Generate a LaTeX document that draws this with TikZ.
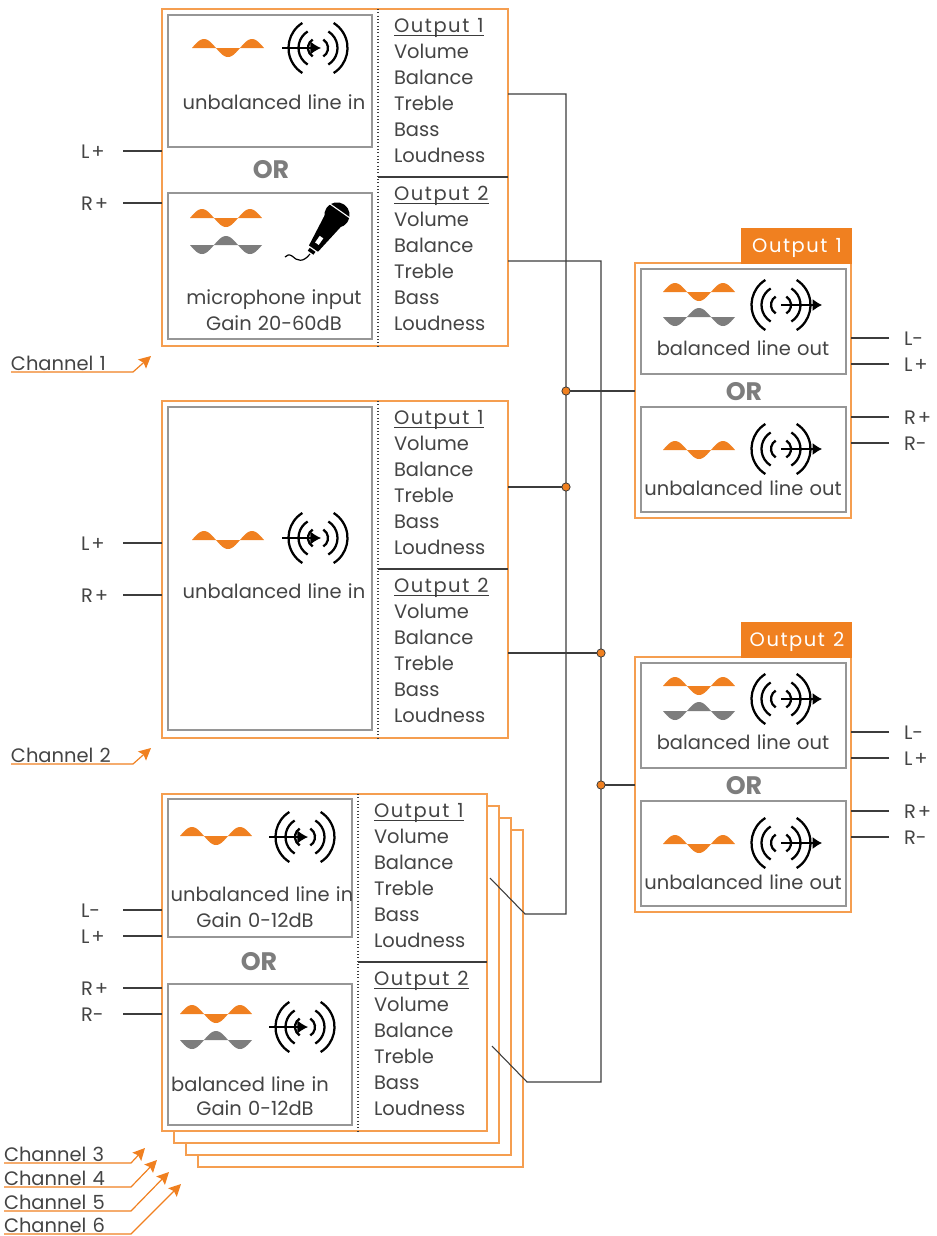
\documentclass[tikz,border=0pt]{standalone}
\usepackage{fontspec}
\setmainfont{Poppins}[WordSpace=1.2]
\usetikzlibrary{arrows.meta,positioning,calc}
\definecolor{mOrange}{RGB}{240,128,32}
\definecolor{mEdge}{RGB}{245,158,80}
\definecolor{mInner}{RGB}{150,150,150}
\definecolor{mWire}{RGB}{60,60,60}
\definecolor{mText}{RGB}{68,68,68}
\definecolor{mWave}{RGB}{125,125,125}
\tikzset{
  chanbox/.style={draw=mEdge, fill=white, line width=1.1pt, inner sep=0pt, outer sep=0pt},
  innerbox/.style={draw=mInner, fill=white, line width=0.95pt, inner sep=0pt, outer sep=0pt},
  tabbox/.style={draw=mOrange, fill=mOrange, line width=0.6pt, inner sep=0pt, outer sep=0pt},
  wire/.style={draw=mWire, line width=0.8pt},
  midrule/.style={draw=mWire, line width=0.9pt},
  dotrule/.style={draw=mWire, line width=0.8pt, dash pattern=on 0.8pt off 1.7pt},
  chanln/.style={draw=mOrange, line width=0.9pt, -{Stealth[length=9pt,width=9pt,inset=1.5pt]}},
  sigln/.style={draw=black, line width=1.7pt},
  txt/.style={font=\fontsize{14.6}{17}\selectfont, text=mText, inner sep=0pt, outer sep=0pt, text height=10.5pt, text depth=0pt},
  rowtxt/.style={txt, anchor=base west},
  headtxt/.style={rowtxt, font=\fontsize{14.6}{17}\selectfont\addfontfeature{LetterSpace=8}},
  tabtxt/.style={txt, text=white, font=\fontsize{14.6}{17}\selectfont\addfontfeature{LetterSpace=8}},
  orword/.style={font=\fontsize{19}{20}\selectfont\bfseries, text=mWave, inner sep=0pt},
  junction/.style={circle, draw=mWire, fill=mOrange, line width=0.6pt, minimum size=6.2pt, inner sep=0pt, outer sep=0pt},
}
\newcommand{\blockat}[6]{%
  \node[#2, anchor=north west, minimum width={((#5)-(#3))*0.75pt}, minimum height={((#6)-(#4))*0.75pt}] (#1) at (#3,#4) {};
}
\newcommand{\wavefill}[4]{%
  \fill[#1] plot[domain=0:540, samples=73] ({#2-36+\x*24/180},{#3-#4*9*sin(\x)}) -- cycle;
}
\newcommand{\sigarcs}[2]{%
  \foreach \r in {10,19.5,29.5}{
    \draw[sigln] ({#1-\r*cos(58)},{#2-\r*sin(58)}) arc[start angle=122, end angle=238, radius=\r*0.75pt];
    \draw[sigln] ({#1+\r*cos(58)},{#2+\r*sin(58)}) arc[start angle=-58, end angle=58, radius=\r*0.75pt];
  }
}
\newcommand{\sigin}[2]{%
  \sigarcs{#1}{#2}
  \draw[draw=black, line width=1pt, -{Latex[length=8pt,width=10pt]}] (#1-36,#2) -- (#1+3,#2);
}
\newcommand{\sigout}[2]{%
  \sigarcs{#1}{#2}
  \draw[draw=black, line width=1pt, -{Latex[length=7pt,width=9pt]}] (#1,#2) -- (#1+41,#2);
}
\newcommand{\knobrows}[4]{%
  \node[headtxt] (#1) at (#2,#3+7) {Output #4};
  \draw[mWire, line width=0.8pt] ([yshift=-2.4pt]#1.base west) -- ([yshift=-2.4pt]#1.base east);
  \foreach \t [count=\i] in {Volume,Balance,Treble,Bass,Loudness}{
    \node[rowtxt] (#1-\i) at (#2,{#3+7+26*\i}) {\t};
  }
}
\newcommand{\knobcolumn}[3]{%
  \coordinate (#1-t) at (#2,#3);
  \coordinate (#1-m) at (#2,#3+168);
  \draw[dotrule] (#1-t) -- (#1-t |- #1box.south);
  \draw[midrule] (#1-m) -- (#1-m -| #1box.east);
  \knobrows{#1-a}{#2+16}{#3+16}{1}
  \knobrows{#1-b}{#2+16}{#3+184}{2}
}
\newcommand{\portin}[4]{%
  \node[txt, anchor=west] (#1) at (81,#4) {#3};
  \coordinate (#1-e) at (123,#4);
  \draw[wire] (#1-e) -- (#1-e -| #2.west);
}
\newcommand{\portout}[4]{%
  \node[txt, anchor=west] (#1) at (904,#4) {#3};
  \coordinate (#1-e) at (889,#4);
  \draw[wire] (#1-e) -- (#1-e -| #2.east);
}
\newcommand{\chanlabel}[7]{%
  \node[txt, anchor=base west] (#1) at (#3,#4+7) {#2};
  \coordinate (#1-s) at (#3,#4+9);
  \coordinate (#1-k) at (#5,#4+9);
  \coordinate (#1-h) at (#6,#7);
  \draw[chanln] (#1-s) -- (#1-k) -- (#1-h);
}
\newcommand{\lplus}[1]{#1\kern1.5pt+}
% one output block, last argument moves it down the page
\newcommand{\outputblock}[3]{%
  \blockat{#1box}{chanbox}{635}{263+#3}{851}{518+#3}
  \blockat{#1tab}{tabbox}{741}{228+#3}{851}{263+#3}
  \node[tabtxt] (#1tabtxt) at (797,245+#3) {Output #2};
  \blockat{#1bal}{innerbox}{641}{269+#3}{846}{374+#3}
  \blockat{#1unb}{innerbox}{641}{407+#3}{846}{512+#3}
  \node[orword] (#1or) at (744,392+#3) {OR};
  \wavefill{mOrange}{699}{292+#3}{1}
  \wavefill{mWave}{699}{317+#3}{-1}
  \sigout{781}{305+#3}
  \node[txt] (#1baltxt) at (743,348+#3) {balanced line out};
  \wavefill{mOrange}{699}{450+#3}{1}
  \sigout{781}{449+#3}
  \node[txt] (#1unbtxt) at (743,488+#3) {unbalanced line out};
  \portout{#1lm}{#1box}{L-}{338+#3}
  \portout{#1lp}{#1box}{\lplus{L}}{364+#3}
  \portout{#1rp}{#1box}{\lplus{R}}{417+#3}
  \portout{#1rm}{#1box}{R-}{443+#3}
}
\begin{document}
\begin{tikzpicture}[x=0.75pt,y=-0.75pt]
  \useasboundingbox (0,0) rectangle (936,1236);
  % channel 1
  \blockat{ch1box}{chanbox}{162}{9}{508}{346}
  \blockat{ch1line}{innerbox}{168}{15}{372}{147}
  \blockat{ch1mic}{innerbox}{168}{193}{372}{339}
  \knobcolumn{ch1}{378}{9}
  \node[orword] (ch1or) at (271,170) {OR};
  \wavefill{mOrange}{228}{48}{1}
  \sigin{318}{48}
  \node[txt] (ch1linetxt) at (274,102) {unbalanced line in};
  \wavefill{mOrange}{226}{218}{1}
  \wavefill{mWave}{226}{245}{-1}
  \begin{scope}[shift={(337,215)}, rotate=-35]
    \fill[black] (0,0) circle (9.5pt);
    \draw[white, line width=0.8pt] (-13,-5) -- (13,-5);
    \fill[black] (-10,7) -- (10,7) -- (5.5,41) -- (-5.5,41) -- cycle;
    \fill[white] (-2.2,27) rectangle (2.2,35);
    \fill[black] (-3.5,42.5) rectangle (3.5,46);
  \end{scope}
  \draw[black, line width=0.9pt] (310,254) .. controls (303,263) and (297,261) .. (292,256) .. controls (289,254) and (287,255) .. (285,257);
  \node[txt] (ch1mictxt) at (274,297) {microphone input};
  \node[txt] (ch1gaintxt) at (274,323) {Gain 20-60dB};
  \portin{ch1lp}{ch1box}{\lplus{L}}{151}
  \portin{ch1rp}{ch1box}{\lplus{R}}{203}
  \chanlabel{ch1lab}{Channel 1}{11}{363}{133}{151}{356}
  % channel 2
  \blockat{ch2box}{chanbox}{162}{401}{508}{738}
  \blockat{ch2line}{innerbox}{168}{407}{372}{730}
  \knobcolumn{ch2}{378}{401}
  \wavefill{mOrange}{228}{540}{1}
  \sigin{318}{538}
  \node[txt] (ch2linetxt) at (274,591) {unbalanced line in};
  \portin{ch2lp}{ch2box}{\lplus{L}}{543}
  \portin{ch2rp}{ch2box}{\lplus{R}}{595}
  \chanlabel{ch2lab}{Channel 2}{11}{755}{133}{151}{748}
  % channels 3 to 6, back to front
  \foreach \n/\dd in {6/36,5/24,4/12}{
    \blockat{ch\n box}{chanbox}{162+\dd}{794+\dd}{487+\dd}{1131+\dd}
  }
  \blockat{ch3box}{chanbox}{162}{794}{487}{1131}
  \blockat{ch3line}{innerbox}{168}{799}{352}{937}
  \blockat{ch3bal}{innerbox}{168}{984}{352}{1125}
  \knobcolumn{ch3}{358}{794}
  \node[orword] (ch3or) at (259,962) {OR};
  \wavefill{mOrange}{216}{836}{1}
  \sigin{305}{837}
  \node[txt] (ch3linetxt) at (262,894) {unbalanced line in};
  \node[txt] (ch3gaintxt) at (255,920) {Gain 0-12dB};
  \wavefill{mOrange}{216}{1014}{1}
  \wavefill{mWave}{216}{1040}{-1}
  \sigin{305}{1027}
  \node[txt] (ch3baltxt) at (250,1084) {balanced line in};
  \node[txt] (ch3gainbtxt) at (255,1108) {Gain 0-12dB};
  \portin{ch3lm}{ch3box}{L-}{910}
  \portin{ch3lp}{ch3box}{\lplus{L}}{936}
  \portin{ch3rp}{ch3box}{\lplus{R}}{988}
  \portin{ch3rm}{ch3box}{R-}{1014}
  \chanlabel{ch3lab}{Channel 3}{4}{1154}{131}{145}{1148}
  \chanlabel{ch4lab}{Channel 4}{4}{1178}{131}{157}{1160}
  \chanlabel{ch5lab}{Channel 5}{4}{1202}{131}{169}{1172}
  \chanlabel{ch6lab}{Channel 6}{4}{1225}{131}{181}{1184}
  % outputs
  \outputblock{ouA}{1}{0}
  \outputblock{ouB}{2}{394}
  % busses
  \coordinate (busAtop) at (566,94);
  \coordinate (busAbot) at (566,914);
  \coordinate (busBtop) at (601,261);
  \coordinate (busBbot) at (601,1082);
  \coordinate (ch3aout) at (490,878);
  \coordinate (ch3akn) at (525,914);
  \coordinate (ch3bout) at (492,1046);
  \coordinate (ch3bkn) at (527,1082);
  \coordinate (jnA1) at (566,391);
  \coordinate (jnA2) at (566,487);
  \coordinate (jnB1) at (601,653);
  \coordinate (jnB2) at (601,785);
  \draw[wire] (ch1box.east |- busAtop) -- (busAtop) -- (busAbot) -- (ch3akn) -- (ch3aout);
  \draw[wire] (ch1box.east |- busBtop) -- (busBtop) -- (busBbot) -- (ch3bkn) -- (ch3bout);
  \draw[wire] (jnA1) -- (jnA1 -| ouAbox.west);
  \draw[wire] (jnB2) -- (jnB2 -| ouBbox.west);
  \draw[wire] (ch2box.east |- jnA2) -- (jnA2);
  \draw[wire] (ch2box.east |- jnB1) -- (jnB1);
  \foreach \j in {jnA1,jnA2,jnB1,jnB2}{
    \node[junction] (\j dot) at (\j) {};
  }
\end{tikzpicture}
\end{document}
